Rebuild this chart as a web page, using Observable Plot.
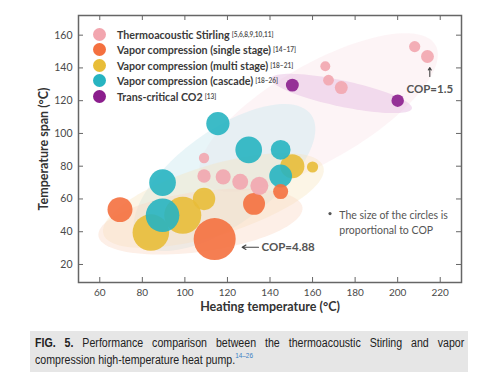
<!DOCTYPE html>
<html><head><meta charset="utf-8">
<script src="https://cdn.jsdelivr.net/npm/d3@7"></script>
<script src="https://cdn.jsdelivr.net/npm/@observablehq/plot@0.6"></script>
<style>
body{margin:0;background:#fff;width:484px;height:384px;position:relative;overflow:hidden;font-family:Lato,sans-serif}
#chart{position:absolute;left:0;top:0}
#legend{position:absolute;left:93px;top:26.5px}
.item{height:15.5px;display:flex;align-items:center;white-space:nowrap}
.sw{width:13px;height:13px;border-radius:50%;margin-right:11px;flex:none}
.lab{font-weight:bold;font-size:10.7px;color:#3a3a3a}
.ref{font-size:6.5px;color:#555;font-weight:bold;margin-left:2px}
#caption{position:absolute;left:30px;top:331px;width:438px;height:41px;background:#e6e6e6;overflow:hidden}
#capin{position:absolute;left:5px;top:4px;width:505px;transform:scaleX(0.85);transform-origin:0 0;font-family:"Liberation Sans",Arial,sans-serif;font-size:12.5px;line-height:17px;color:#222}
#capin .l1{display:block;text-align:justify;text-align-last:justify}
#capin .l2{display:block}
#capin sup{color:#3b7fc4;font-size:7.5px;vertical-align:top;line-height:7px}
</style></head>
<body>
<div id="chart"></div>
<div id="legend"></div>
<div id="caption"><div id="capin"><span class="l1"><b>FIG. 5.</b> Performance comparison between the thermoacoustic Stirling and vapor</span><span class="l2">compression high-temperature heat pump.<sup>14–26</sup></span></div></div>
<script>
// ---- data ----
const series = ["Thermoacoustic Stirling","Vapor compression (single stage)","Vapor compression (multi stage)","Vapor compression (cascade)","Trans-critical CO2"];
const refs = ["[5,6,8,9,10,11]","[14–17]","[18–21]","[18–26]","[13]"];
const colors = ["#f2a6af","#f4703f","#e8bd38","#27b4c1","#8b1e8d"];

const stirlingHeat = [208,214,166,167.5,173.5,109,109,118,126,135];
const stirlingSpan = [153,147,141,132.5,128,85,74,73.5,70.5,68];
const stirlingCOP  = [1.3,1.5,1.15,1.25,1.5,1.2,1.55,1.75,1.85,2.1];

const singleHeat = [69.5,114,132.5,145];
const singleSpan = [53.5,35.5,57,64.5];
const singleCOP  = [2.9,4.88,2.55,1.75];

const multiHeat = [84,99,109,150.5,160];
const multiSpan = [39.5,50,60,80,79.5];
const multiCOP  = [4.25,4.3,2.6,2.8,1.3];

const cascadeHeat = [115.5,130,145,145,89.5,89.5];
const cascadeSpan = [106,90,90,74,70,50];
const cascadeCOP  = [2.7,3.1,2.3,2.65,3.1,3.9];

const co2Heat = [150.5,200];
const co2Span = [129.5,120];
const co2COP  = [1.5,1.45];

const xTicks = [60,80,100,120,140,160,180,200,220];
const yTicks = [20,40,60,80,100,120,140,160];
const xLabel = "Heating temperature (°C)";
const yLabel = "Temperature span (°C)";

// shaded groups: centre (data), semi-axes (px), rotation (deg, screen)
const regionCx = [162.8,173.6,118.6,113.4,107.3];
const regionCy = [112.8,124.4,73.1,59.1,46.2];
const regionA  = [135,72,107,115,103];
const regionB  = [48,13,47,35,30];
const regionAng= [-30,12,-36,-17,-8];
const regionFill = ["#fbe4e9","#e8bfe4","#cde8ef","#f7e3b6","#fbd6c2"];
const regionOpacity = [0.4,0.5,0.45,0.35,0.4];

// annotations
const noteText = ["The size of the circles is\nproportional to COP"];
const cop488 = {x1:134.6,x2:126.9,y:30.5,tx:136,label:"COP=4.88"};
const cop15 = {x:215.1,y1:134.8,y2:140.3,ty:126.8,label:"COP=1.5"};
const note = {x:172.6,y:51.1,bx:168.2};

// ---- build ----
const groups = [
  [stirlingHeat,stirlingSpan,stirlingCOP],
  [singleHeat,singleSpan,singleCOP],
  [multiHeat,multiSpan,multiCOP],
  [cascadeHeat,cascadeSpan,cascadeCOP],
  [co2Heat,co2Span,co2COP]
];
const rows = [];
groups.forEach(([h,s,c],g)=>h.forEach((v,i)=>rows.push({heat:v,span:s[i],cop:c[i],color:colors[g]})));

const W=484,H=322,ML=78,MR=23,MT=15,MB=40;
const xDomain=[50,230], yDomain=[9,172];
const iw=W-ML-MR, ih=H-MT-MB;
const kx=iw/(xDomain[1]-xDomain[0]), ky=ih/(yDomain[1]-yDomain[0]);

function ellipse(i){
  const th=regionAng[i]*Math.PI/180, pts=[];
  for(let k=0;k<96;k++){
    const t=k/96*2*Math.PI;
    const dx=regionA[i]*Math.cos(t)*Math.cos(th)-regionB[i]*Math.sin(t)*Math.sin(th);
    const dy=regionA[i]*Math.cos(t)*Math.sin(th)+regionB[i]*Math.sin(t)*Math.cos(th);
    pts.push({x:regionCx[i]+dx/kx,y:regionCy[i]-dy/ky});
  }
  return pts;
}
const regionMarks = regionCx.map((_,i)=>Plot.line(ellipse(i),{x:"x",y:"y",curve:"linear-closed",fill:regionFill[i],fillOpacity:regionOpacity[i],stroke:null}));

const plot = Plot.plot({
  width:W,height:H,marginLeft:ML,marginRight:MR,marginTop:MT,marginBottom:MB,
  style:{fontFamily:"Lato, sans-serif",fontSize:"10px",color:"#4a4a4a",background:"transparent"},
  x:{domain:xDomain},
  y:{domain:yDomain},
  r:{type:"linear",domain:[0,4.88],range:[0,21]},
  marks:[
    ...regionMarks,
    Plot.dot(rows,{x:"heat",y:"span",r:"cop",fill:"color",fillOpacity:0.9,stroke:null}),
    Plot.frame({stroke:"#666",strokeWidth:1.5}),
    Plot.tickX(xTicks,{x:d=>d,insetTop:ih-5,stroke:"#666"}),
    Plot.tickX(xTicks,{x:d=>d,insetBottom:ih-5,stroke:"#666"}),
    Plot.tickY(yTicks,{y:d=>d,insetRight:iw-5,stroke:"#666"}),
    Plot.tickY(yTicks,{y:d=>d,insetLeft:iw-5,stroke:"#666"}),
    Plot.axisX(xTicks,{tickSize:0,tickPadding:6,label:null,fill:"#4a4a4a"}),
    Plot.axisY(yTicks,{tickSize:0,tickPadding:6,label:null,fill:"#4a4a4a",fontSize:10.5}),
    Plot.text([xLabel],{text:d=>d,frameAnchor:"bottom",dy:28,fontWeight:"bold",fontSize:12.5,fill:"#333"}),
    Plot.text([yLabel],{text:d=>d,frameAnchor:"left",textAnchor:"middle",lineAnchor:"middle",rotate:-90,dx:-35,dy:0,fontWeight:"bold",fontSize:12.5,fill:"#333"}),
    Plot.arrow([cop488],{x1:"x1",x2:"x2",y1:"y",y2:"y",stroke:"#444",strokeWidth:1.1,headLength:6}),
    Plot.text([cop488],{x:"tx",y:"y",text:"label",textAnchor:"start",fontSize:11.5,fontWeight:"bold",fill:"#555"}),
    Plot.arrow([cop15],{x1:"x",x2:"x",y1:"y1",y2:"y2",stroke:"#444",strokeWidth:1.1,headLength:6}),
    Plot.text([cop15],{x:"x",y:"ty",text:"label",fontSize:11.5,fontWeight:"bold",fill:"#555"}),
    Plot.text(noteText,{x:()=>note.x,y:()=>note.y,text:d=>d,textAnchor:"start",lineAnchor:"top",lineHeight:1.5,dy:-6,fontSize:10.5,fill:"#555"}),
    Plot.dot([note],{x:"bx",y:"y",r:1.6,fill:"#555",stroke:null})
  ]
});
document.getElementById("chart").appendChild(plot);

const lg=document.getElementById("legend");
series.forEach((s,i)=>{
  const d=document.createElement("div");d.className="item";
  d.innerHTML=`<span class="sw" style="background:${colors[i]}"></span><span class="lab">${s}</span><span class="ref">${refs[i]}</span>`;
  lg.appendChild(d);
});
</script>
</body></html>
